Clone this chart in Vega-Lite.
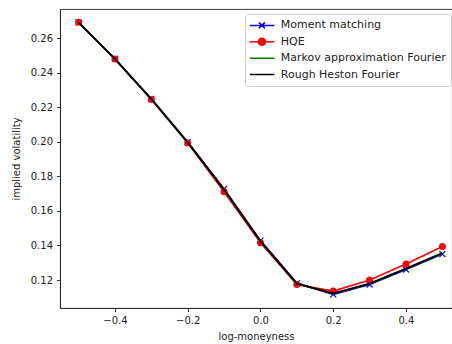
{
  "$schema": "https://vega.github.io/schema/vega-lite/v6.json",
  "width": 392,
  "height": 299,
  "autosize": {"type": "none"},
  "padding": {"left": 60, "top": 9, "right": 0, "bottom": 36},
  "background": "white",
  "config": {
    "font": "DejaVu Sans",
    "view": {"stroke": "#222", "strokeWidth": 0.9},
    "axis": {
      "grid": false,
      "domainColor": "#222",
      "domainWidth": 0.9,
      "tickColor": "#222",
      "tickWidth": 0.9,
      "tickSize": 3.5,
      "labelFont": "DejaVu Sans",
      "labelFontSize": 10,
      "labelColor": "#222",
      "labelPadding": 4,
      "titleFont": "DejaVu Sans",
      "titleFontSize": 10,
      "titleFontWeight": "normal",
      "titleColor": "#222"
    }
  },
  "data": {
    "values": [
      {"k": -0.5, "iv": 0.2690, "series": "Moment matching"},
      {"k": -0.4, "iv": 0.2479, "series": "Moment matching"},
      {"k": -0.3, "iv": 0.2248, "series": "Moment matching"},
      {"k": -0.2, "iv": 0.1998, "series": "Moment matching"},
      {"k": -0.1, "iv": 0.1727, "series": "Moment matching"},
      {"k": 0.0, "iv": 0.1428, "series": "Moment matching"},
      {"k": 0.1, "iv": 0.1182, "series": "Moment matching"},
      {"k": 0.2, "iv": 0.1117, "series": "Moment matching"},
      {"k": 0.3, "iv": 0.1174, "series": "Moment matching"},
      {"k": 0.4, "iv": 0.1261, "series": "Moment matching"},
      {"k": 0.5, "iv": 0.1350, "series": "Moment matching"},
      {"k": -0.5, "iv": 0.2692, "series": "HQE"},
      {"k": -0.4, "iv": 0.2478, "series": "HQE"},
      {"k": -0.3, "iv": 0.2245, "series": "HQE"},
      {"k": -0.2, "iv": 0.1993, "series": "HQE"},
      {"k": -0.1, "iv": 0.1710, "series": "HQE"},
      {"k": 0.0, "iv": 0.1415, "series": "HQE"},
      {"k": 0.1, "iv": 0.1174, "series": "HQE"},
      {"k": 0.2, "iv": 0.1136, "series": "HQE"},
      {"k": 0.3, "iv": 0.1200, "series": "HQE"},
      {"k": 0.4, "iv": 0.1293, "series": "HQE"},
      {"k": 0.5, "iv": 0.1394, "series": "HQE"},
      {"k": -0.5, "iv": 0.2690, "series": "Markov approximation Fourier"},
      {"k": -0.4, "iv": 0.2479, "series": "Markov approximation Fourier"},
      {"k": -0.3, "iv": 0.2247, "series": "Markov approximation Fourier"},
      {"k": -0.2, "iv": 0.1996, "series": "Markov approximation Fourier"},
      {"k": -0.1, "iv": 0.1723, "series": "Markov approximation Fourier"},
      {"k": 0.0, "iv": 0.1425, "series": "Markov approximation Fourier"},
      {"k": 0.1, "iv": 0.1179, "series": "Markov approximation Fourier"},
      {"k": 0.2, "iv": 0.1121, "series": "Markov approximation Fourier"},
      {"k": 0.3, "iv": 0.1178, "series": "Markov approximation Fourier"},
      {"k": 0.4, "iv": 0.1265, "series": "Markov approximation Fourier"},
      {"k": 0.5, "iv": 0.1355, "series": "Markov approximation Fourier"},
      {"k": -0.5, "iv": 0.2690, "series": "Rough Heston Fourier"},
      {"k": -0.4, "iv": 0.2479, "series": "Rough Heston Fourier"},
      {"k": -0.3, "iv": 0.2247, "series": "Rough Heston Fourier"},
      {"k": -0.2, "iv": 0.1996, "series": "Rough Heston Fourier"},
      {"k": -0.1, "iv": 0.1723, "series": "Rough Heston Fourier"},
      {"k": 0.0, "iv": 0.1425, "series": "Rough Heston Fourier"},
      {"k": 0.1, "iv": 0.1179, "series": "Rough Heston Fourier"},
      {"k": 0.2, "iv": 0.1122, "series": "Rough Heston Fourier"},
      {"k": 0.3, "iv": 0.1179, "series": "Rough Heston Fourier"},
      {"k": 0.4, "iv": 0.1266, "series": "Rough Heston Fourier"},
      {"k": 0.5, "iv": 0.1356, "series": "Rough Heston Fourier"}
    ]
  },
  "encoding": {
    "x": {
      "field": "k",
      "type": "quantitative",
      "scale": {"domain": [-0.551, 0.5265], "nice": false, "zero": false},
      "axis": {"values": [-0.4, -0.2, 0.0, 0.2, 0.4], "format": ".1f", "title": "log-moneyness", "titlePadding": 6}
    },
    "y": {
      "field": "iv",
      "type": "quantitative",
      "scale": {"domain": [0.1038, 0.2768], "nice": false, "zero": false},
      "axis": {"values": [0.12, 0.14, 0.16, 0.18, 0.2, 0.22, 0.24, 0.26], "format": ".2f", "title": "implied volatility", "titlePadding": 9}
    },
    "color": {
      "field": "series",
      "type": "nominal",
      "scale": {
        "domain": ["Moment matching", "HQE", "Markov approximation Fourier", "Rough Heston Fourier"],
        "range": ["#0000ff", "#ff0000", "#008000", "#000000"]
      },
      "legend": {
        "title": null,
        "orient": "none",
        "legendX": 185,
        "legendY": 5,
        "padding": 4.9,
        "fillColor": "rgba(255,255,255,0.8)",
        "strokeColor": "#cccccc",
        "cornerRadius": 3,
        "symbolSize": 625,
        "symbolStrokeWidth": 1.5,
        "symbolOffset": -1.5,
        "clipHeight": 13,
        "rowPadding": 3.4,
        "labelOffset": 5.4,
        "labelFont": "DejaVu Sans",
        "labelFontSize": 11,
        "labelColor": "#222",
        "labelLimit": 300,
        "encode": {
          "symbols": {
            "update": {
              "shape": {"signal": "datum.value === 'Moment matching' ? 'M-1,0L1,0M-0.24,-0.24L0.24,0.24M-0.24,0.24L0.24,-0.24' : (datum.value === 'HQE' ? 'M-1,0L1,0M0.28,0A0.28,0.28,0,1,1,-0.28,0A0.28,0.28,0,1,1,0.28,0Z' : 'M-1,0L1,0')"},
              "fill": {"signal": "datum.value === 'HQE' ? '#ff0000' : 'transparent'"},
              "stroke": {"scale": "color", "field": "value"},
              "strokeWidth": {"value": 1.5},
              "opacity": {"value": 1}
            }
          }
        }
      }
    }
  },
  "layer": [
    {
      "transform": [{"filter": "datum.series === 'Moment matching'"}],
      "mark": {"type": "line", "strokeWidth": 1.6}
    },
    {
      "transform": [{"filter": "datum.series === 'Moment matching'"}],
      "mark": {"type": "point", "shape": "M-1,-1L1,1M-1,1L1,-1", "size": 36, "filled": false, "strokeWidth": 1.2, "opacity": 1}
    },
    {
      "transform": [{"filter": "datum.series === 'HQE'"}],
      "mark": {"type": "line", "strokeWidth": 1.6}
    },
    {
      "transform": [{"filter": "datum.series === 'HQE'"}],
      "mark": {"type": "point", "shape": "circle", "size": 49, "filled": true, "opacity": 1}
    },
    {
      "transform": [{"filter": "datum.series === 'Markov approximation Fourier'"}],
      "mark": {"type": "line", "strokeWidth": 1.6}
    },
    {
      "transform": [{"filter": "datum.series === 'Rough Heston Fourier'"}],
      "mark": {"type": "line", "strokeWidth": 1.8}
    }
  ]
}
